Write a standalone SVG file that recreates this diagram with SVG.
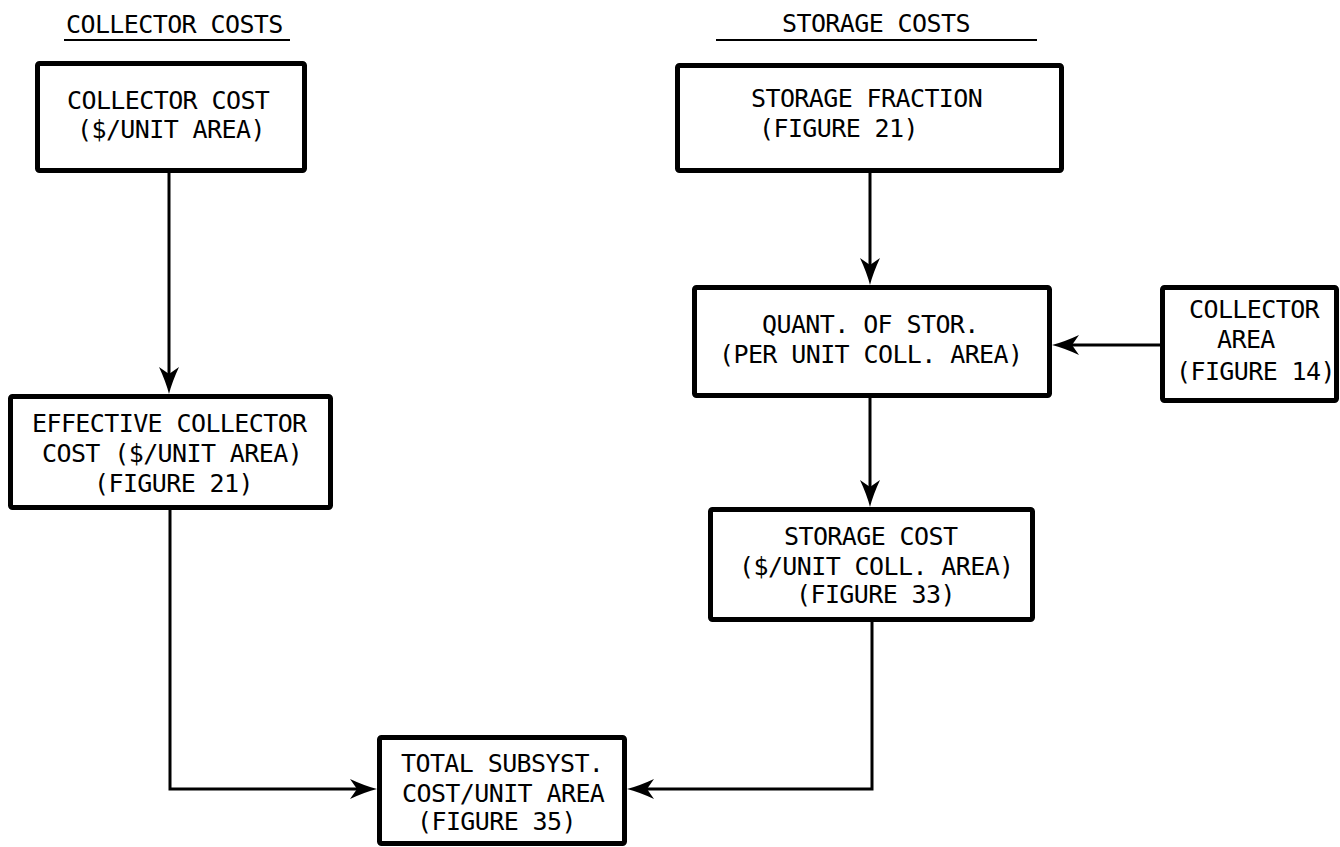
<svg xmlns="http://www.w3.org/2000/svg" width="1340" height="847" viewBox="0 0 1340 847">
  <style>
    .bg { fill: #ffffff; }
    .box { fill: #ffffff; stroke: #000000; stroke-width: 5; }
    .lbl { font-family: "DejaVu Sans Mono", "Liberation Mono", monospace; font-size: 25px; letter-spacing: -0.6px; fill: #000000; }
    .rule { stroke: #000000; stroke-width: 2; }
    .link { fill: none; stroke: #000000; stroke-width: 3; }
  </style>
  <defs>
    <!-- barbed arrowhead; the line stops 10px short of the tip -->
    <marker id="arrow" markerUnits="userSpaceOnUse" viewBox="0 -11 29 22" markerWidth="29" markerHeight="22" refX="17" refY="0" orient="auto">
      <path d="M27,0 Q15,-3 0,-10 L7,0 L0,10 Q15,3 27,0 Z" fill="#000000"/>
    </marker>
  </defs>

  <rect class="bg" x="0" y="0" width="1340" height="847"/>

  <!-- column headings -->
  <g id="heading-collector">
    <text class="lbl" x="66" y="33">COLLECTOR COSTS</text>
    <line class="rule" x1="64" y1="40" x2="290" y2="40"/>
  </g>
  <g id="heading-storage">
    <text class="lbl" x="782" y="32">STORAGE COSTS</text>
    <line class="rule" x1="716" y1="40" x2="1037" y2="40"/>
  </g>

  <!-- connectors -->
  <g id="connectors">
    <line class="link" x1="169" y1="173" x2="169" y2="384" marker-end="url(#arrow)"/>
    <line class="link" x1="870" y1="173" x2="870" y2="275" marker-end="url(#arrow)"/>
    <line class="link" x1="1160" y1="345" x2="1062" y2="345" marker-end="url(#arrow)"/>
    <line class="link" x1="870" y1="398" x2="870" y2="497" marker-end="url(#arrow)"/>
    <path class="link" d="M170,510 V789 H367" marker-end="url(#arrow)"/>
    <path class="link" d="M872,622 V789 H637" marker-end="url(#arrow)"/>
  </g>

  <!-- nodes -->
  <g id="collector-cost">
    <rect class="box" x="37.5" y="63.5" width="267" height="107" rx="2"/>
    <text class="lbl" x="67" y="109">COLLECTOR COST</text>
    <text class="lbl" x="77" y="138">($/UNIT AREA)</text>
  </g>

  <g id="storage-fraction">
    <rect class="box" x="677.5" y="65.5" width="384" height="105" rx="2"/>
    <text class="lbl" x="751" y="107">STORAGE FRACTION</text>
    <text class="lbl" x="759" y="137">(FIGURE 21)</text>
  </g>

  <g id="effective-collector-cost">
    <rect class="box" x="10.5" y="396.5" width="320" height="111" rx="2"/>
    <text class="lbl" x="32" y="432">EFFECTIVE COLLECTOR</text>
    <text class="lbl" x="42" y="462">COST ($/UNIT AREA)</text>
    <text class="lbl" x="94" y="492">(FIGURE 21)</text>
  </g>

  <g id="quantity-of-storage">
    <rect class="box" x="694.5" y="287.5" width="355" height="108" rx="2"/>
    <text class="lbl" x="762" y="333">QUANT. OF STOR.</text>
    <text class="lbl" x="719" y="363">(PER UNIT COLL. AREA)</text>
  </g>

  <g id="collector-area">
    <rect class="box" x="1162.5" y="287.5" width="174" height="113" rx="2"/>
    <text class="lbl" x="1189" y="318">COLLECTOR</text>
    <text class="lbl" x="1217" y="348">AREA</text>
    <text class="lbl" x="1176" y="380">(FIGURE 14)</text>
  </g>

  <g id="storage-cost">
    <rect class="box" x="710.5" y="509.5" width="322" height="110" rx="2"/>
    <text class="lbl" x="784" y="545">STORAGE COST</text>
    <text class="lbl" x="739" y="575">($/UNIT COLL. AREA)</text>
    <text class="lbl" x="796" y="603">(FIGURE 33)</text>
  </g>

  <g id="total-subsystem-cost">
    <rect class="box" x="379.5" y="737.5" width="245" height="106" rx="2"/>
    <text class="lbl" x="401" y="772">TOTAL SUBSYST.</text>
    <text class="lbl" x="402" y="802">COST/UNIT AREA</text>
    <text class="lbl" x="417" y="830">(FIGURE 35)</text>
  </g>
</svg>
